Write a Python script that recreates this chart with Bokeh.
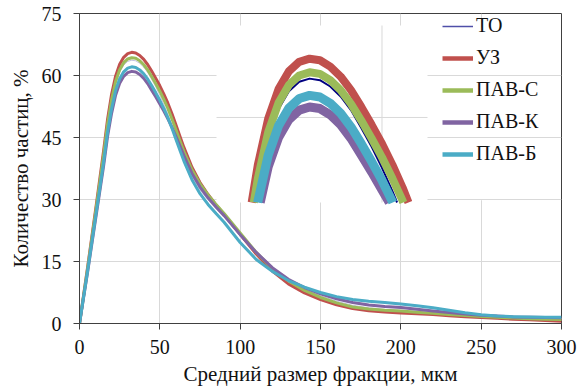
from bokeh.plotting import figure
from bokeh.models import Range1d, FixedTicker, Legend, LegendItem, BoxAnnotation
from bokeh.embed import file_html
from bokeh.resources import INLINE

# ---------------- data ----------------
SIZES = [0, 5, 10, 12.5, 15, 17.5, 20, 22.5, 25, 27.5, 30, 32.5, 35, 37.5, 40, 42.5,
         45, 47.5, 50, 52.5, 55, 57.5, 60, 62.5, 65, 70, 75, 80, 85, 90,
         100, 110, 120, 130, 140, 150, 160, 170, 180, 190, 200, 210, 220, 230,
         240, 250, 260, 270, 280, 290, 300]

TO = [0, 13.0, 26.55, 33.35, 40.3, 47.8, 53.6, 58.0, 60.8, 62.5, 63.4, 63.7, 63.55, 62.95,
      62.0, 60.7, 59.0, 57.2, 55.2, 53.0, 50.6, 47.9, 45.0, 42.3, 39.8, 35.5, 32.3, 29.9,
      27.8, 25.8, 21.2, 16.8, 13.1, 10.3, 8.2, 6.7, 5.4, 4.4, 3.8, 3.4, 3.2, 2.9, 2.6, 2.3,
      2.05, 1.8, 1.6, 1.4, 1.25, 1.15, 1.05]

UZ = [0, 13.5, 27.5, 34.6, 41.8, 49.5, 55.5, 59.9, 62.7, 64.4, 65.3, 65.6, 65.45, 64.85,
      63.9, 62.6, 61.0, 59.3, 57.5, 55.5, 53.3, 50.8, 48.1, 45.3, 42.6, 37.8, 34.1, 31.2,
      28.7, 26.4, 21.6, 16.8, 12.7, 9.6, 7.4, 5.8, 4.5, 3.6, 3.1, 2.8, 2.55, 2.35, 2.15, 1.9,
      1.65, 1.45, 1.25, 1.05, 0.9, 0.7, 0.55]

PAV_S = [0, 13.2, 26.85, 33.75, 40.75, 48.35, 54.2, 58.6, 61.4, 63.1, 64.0, 64.3, 64.15,
         63.55, 62.6, 61.3, 59.7, 58.0, 56.2, 54.2, 52.05, 49.55, 46.95, 44.2, 41.6, 37.2,
         33.8, 31.1, 28.8, 26.6, 21.9, 17.2, 13.3, 10.3, 8.0, 6.3, 5.0, 4.0, 3.5, 3.2, 3.0,
         2.7, 2.45, 2.2, 1.95, 1.7, 1.5, 1.3, 1.15, 1.05, 0.95]

PAV_K = [0, 12.35, 25.2, 31.6, 38.1, 45.35, 50.9, 55.3, 58.1, 59.8, 60.7, 61.0, 60.85,
         60.25, 59.3, 58.0, 56.4, 54.8, 53.1, 51.4, 49.5, 47.5, 45.3, 43.0, 40.6, 36.3, 33.0,
         30.4, 28.2, 26.1, 21.5, 17.2, 13.5, 10.7, 8.7, 7.2, 6.0, 5.1, 4.5, 4.1, 3.85, 3.45,
         3.05, 2.65, 2.3, 2.0, 1.8, 1.6, 1.5, 1.45, 1.4]

PAV_B = [0, 12.6, 25.75, 32.3, 39.0, 46.35, 52.0, 56.4, 59.2, 60.9, 61.8, 62.1, 61.95,
         61.35, 60.4, 59.1, 57.5, 55.8, 54.0, 52.0, 49.8, 47.3, 44.6, 41.9, 39.3, 34.8, 31.4,
         28.8, 26.6, 24.5, 19.6, 15.5, 12.6, 10.4, 8.8, 7.5, 6.5, 5.8, 5.4, 5.1, 4.7, 4.3,
         3.8, 3.2, 2.6, 2.1, 1.8, 1.65, 1.55, 1.5, 1.5]

SERIES_NAMES = ["ТО", "УЗ", "ПАВ-С", "ПАВ-К", "ПАВ-Б"]
X_TICKS = [0, 50, 100, 150, 200, 250, 300]
Y_TICKS = [0, 15, 30, 45, 60, 75]
X_LABEL = "Средний размер фракции, мкм"
Y_LABEL = "Количество частиц, %"

# zoomed inset: data window shown (x in µm, y in %) and its own grid lines
INSET_X = [10, 61]
INSET_Y = [51.9, 68.76]
INSET_GRID_X = [50]
INSET_GRID_Y = [60]

# ---------------- layout / style ----------------
FRAME_W, FRAME_H = 482, 310
INSET_BOX = (137, 348, 12, 189)   # left, right, top, bottom in frame pixels
FONT = "Liberation Serif"
C_TO, C_UZ, C_S, C_K, C_B = "#000080", "#C0504D", "#9BBB59", "#8064A2", "#4BACC6"
GRID_C = "#d9d9d9"
AXIS_C = "#404040"
NAN = float("nan")

p = figure(frame_width=FRAME_W, frame_height=FRAME_H,
           min_border_left=79, min_border_right=23, min_border_top=13, min_border_bottom=64,
           x_range=Range1d(X_TICKS[0], X_TICKS[-1]), y_range=Range1d(Y_TICKS[0], Y_TICKS[-1]),
           output_backend="svg", toolbar_location=None)

p.background_fill_color = "white"
p.border_fill_color = "white"
p.outline_line_color = AXIS_C
p.outline_line_width = 1

for ax, ticks, lab in ((p.xaxis[0], X_TICKS, X_LABEL), (p.yaxis[0], Y_TICKS, Y_LABEL)):
    ax.ticker = FixedTicker(ticks=ticks)
    ax.axis_label = lab
    ax.axis_label_text_font = FONT
    ax.axis_label_text_font_size = "21px"
    ax.axis_label_text_font_style = "normal"
    ax.axis_label_text_color = "#111111"
    ax.major_label_text_font = FONT
    ax.major_label_text_font_size = "20px"
    ax.major_label_text_color = "#111111"
    ax.axis_line_color = AXIS_C
    ax.major_tick_line_color = AXIS_C
    ax.major_tick_in = 0
    ax.major_tick_out = 6
    ax.minor_tick_line_color = None
p.xaxis[0].major_label_standoff = 10
p.xaxis[0].axis_label_standoff = 5
p.yaxis[0].major_label_standoff = 12
p.yaxis[0].axis_label_standoff = 6

p.xgrid[0].ticker = FixedTicker(ticks=X_TICKS)
p.ygrid[0].ticker = FixedTicker(ticks=Y_TICKS)
p.xgrid[0].grid_line_color = GRID_C
p.ygrid[0].grid_line_color = GRID_C

# the pasted inset picture hides the 250-µm vertical grid line behind the legend
mask = BoxAnnotation(left=X_TICKS[5] - 0.8, right=X_TICKS[5] + 0.8, bottom=29.8, top=71.6,
                     fill_color="white", fill_alpha=1.0, line_alpha=0, level="underlay")
p.center.insert(1, mask)

# ---------------- main curves ----------------
p.line(SIZES, TO, line_color="white", line_width=3, line_join="round")
p.line(SIZES, TO, line_color=C_TO, line_width=0.7, line_alpha=0.35, line_join="round")
p.line(SIZES, UZ, line_color=C_UZ, line_width=3, line_join="round")
p.line(SIZES, PAV_S, line_color=C_S, line_width=3, line_join="round")
p.line(SIZES, PAV_K, line_color=C_K, line_width=3, line_join="round")
p.line(SIZES, PAV_B, line_color=C_B, line_width=3, line_join="round")

# ---------------- inset (zoom on the peak) ----------------
l, r, t, b = INSET_BOX
sx = (r - l) / (INSET_X[1] - INSET_X[0])
sy = (b - t) / (INSET_Y[1] - INSET_Y[0])
ix0 = INSET_X[0] - l / sx
iy0 = INSET_Y[0] - (FRAME_H - b) / sy
p.extra_x_ranges = {"ix": Range1d(ix0, ix0 + FRAME_W / sx)}
p.extra_y_ranges = {"iy": Range1d(iy0, iy0 + FRAME_H / sy)}

p.quad(left=INSET_X[0], right=INSET_X[1], bottom=INSET_Y[0], top=INSET_Y[1],
       fill_color="white", line_color=None, x_range_name="ix", y_range_name="iy")
for gx in INSET_GRID_X:
    p.segment(x0=gx, x1=gx, y0=INSET_Y[0], y1=INSET_Y[1], line_color=GRID_C, line_width=1,
              x_range_name="ix", y_range_name="iy")
for gy in INSET_GRID_Y:
    p.segment(x0=INSET_X[0], x1=INSET_X[1], y0=gy, y1=gy, line_color=GRID_C, line_width=1,
              x_range_name="ix", y_range_name="iy")


def clip_above(xs, ys, ylo):
    """Geometric clipping of a polyline to y >= ylo (single peak)."""
    ox, oy = [], []
    for i in range(len(xs)):
        if ys[i] >= ylo:
            if not ox and i > 0:
                f = (ylo - ys[i - 1]) / (ys[i] - ys[i - 1])
                ox.append(xs[i - 1] + f * (xs[i] - xs[i - 1]))
                oy.append(ylo)
            ox.append(xs[i])
            oy.append(ys[i])
        elif ox:
            f = (ylo - ys[i - 1]) / (ys[i] - ys[i - 1])
            ox.append(xs[i - 1] + f * (xs[i] - xs[i - 1]))
            oy.append(ylo)
            break
    return ox, oy


for ys, col, w in ((TO, C_TO, 2), (UZ, C_UZ, 8), (PAV_S, C_S, 8), (PAV_K, C_K, 9), (PAV_B, C_B, 9)):
    cx, cy = clip_above(SIZES, ys, INSET_Y[0])
    p.line(cx, cy, line_color=col, line_width=w, line_join="round",
           x_range_name="ix", y_range_name="iy")

# ---------------- legend (style-only renderers, no visible data) ----------------
leg_r = [
    p.line([NAN], [NAN], line_color="#4f4fa8", line_width=1.5),
    p.line([NAN], [NAN], line_color=C_UZ, line_width=4.5),
    p.line([NAN], [NAN], line_color=C_S, line_width=4.5),
    p.line([NAN], [NAN], line_color=C_K, line_width=4.5),
    p.line([NAN], [NAN], line_color=C_B, line_width=4.5),
]
legend = Legend(items=[LegendItem(label=n, renderers=[rr]) for n, rr in zip(SERIES_NAMES, leg_r)],
                location=(363, 158), orientation="vertical",
                background_fill_alpha=0, border_line_alpha=0, padding=0, margin=0,
                spacing=9, glyph_width=31, glyph_height=20, label_height=20,
                label_standoff=3, label_text_font=FONT, label_text_font_size="20px",
                label_text_color="#111111")
p.add_layout(legend)

open("out.html", "w").write(file_html(p, INLINE))
